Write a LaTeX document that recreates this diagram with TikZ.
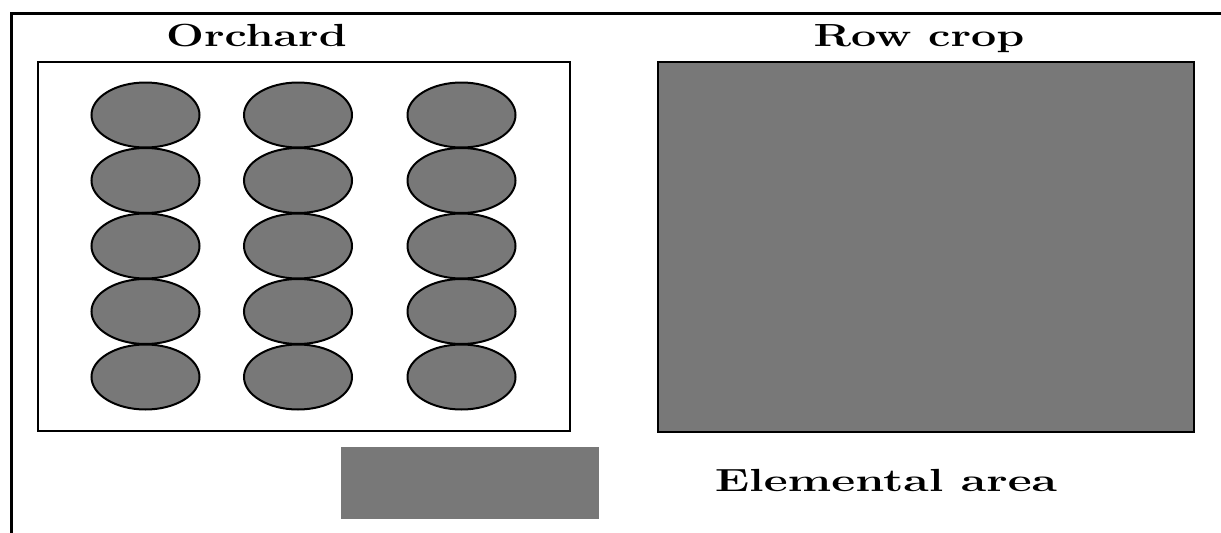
\documentclass[tikz,border=0pt]{standalone}
\definecolor{mydither}{RGB}{120, 120, 120}
\usepackage{tikz}
\usetikzlibrary{shapes.geometric}
\tikzset{every picture/.style={line width=0.75pt}}
\tikzset{
  tree/.style={ellipse, draw=black, fill=mydither, line width=1.5pt, inner sep=0pt,
               minimum width=81pt, minimum height=48.75pt},
  plotlabel/.style={anchor=base, inner sep=0pt, xscale=1.4,
                    font=\bfseries\fontsize{24}{26}\selectfont}
}

\begin{document}
\begin{tikzpicture}[x=0.75pt,y=0.75pt,yscale=-1,xscale=1]
\useasboundingbox (0,0) rectangle (1221,532);
\clip (0,0) rectangle (1221,532);
%Outer frame (runs off the right and bottom edges)
\draw [line width=2.25pt ]   (11,13.5) rectangle (1240,560) ;
%Orchard plot
\draw [line width=1.5pt ]   (37.5,61.5) rectangle (570,431) ;
\node [plotlabel] (orchard) at (256.5,46) {Orchard};
%Trees: 3 rows of 5
\foreach \col/\cx in {1/145.5, 2/298, 3/461.5} {
  \foreach \row in {1,...,5} {
    \node [tree] (tree-\col-\row) at (\cx, 115+65.5*\row-65.5) {};
  }
}
%Row crop plot
\draw [fill=mydither ,line width=1.5pt ]   (658,61.5) rectangle (1193.5,432) ;
\node [plotlabel] (rowcrop) at (919,46) {Row crop};
%Elemental area
\fill [mydither ]   (341,447) rectangle (599,519) ;
\node [plotlabel, xscale=1.04] (elemental) at (886,491) {Elemental area};
\end{tikzpicture}
\end{document}
